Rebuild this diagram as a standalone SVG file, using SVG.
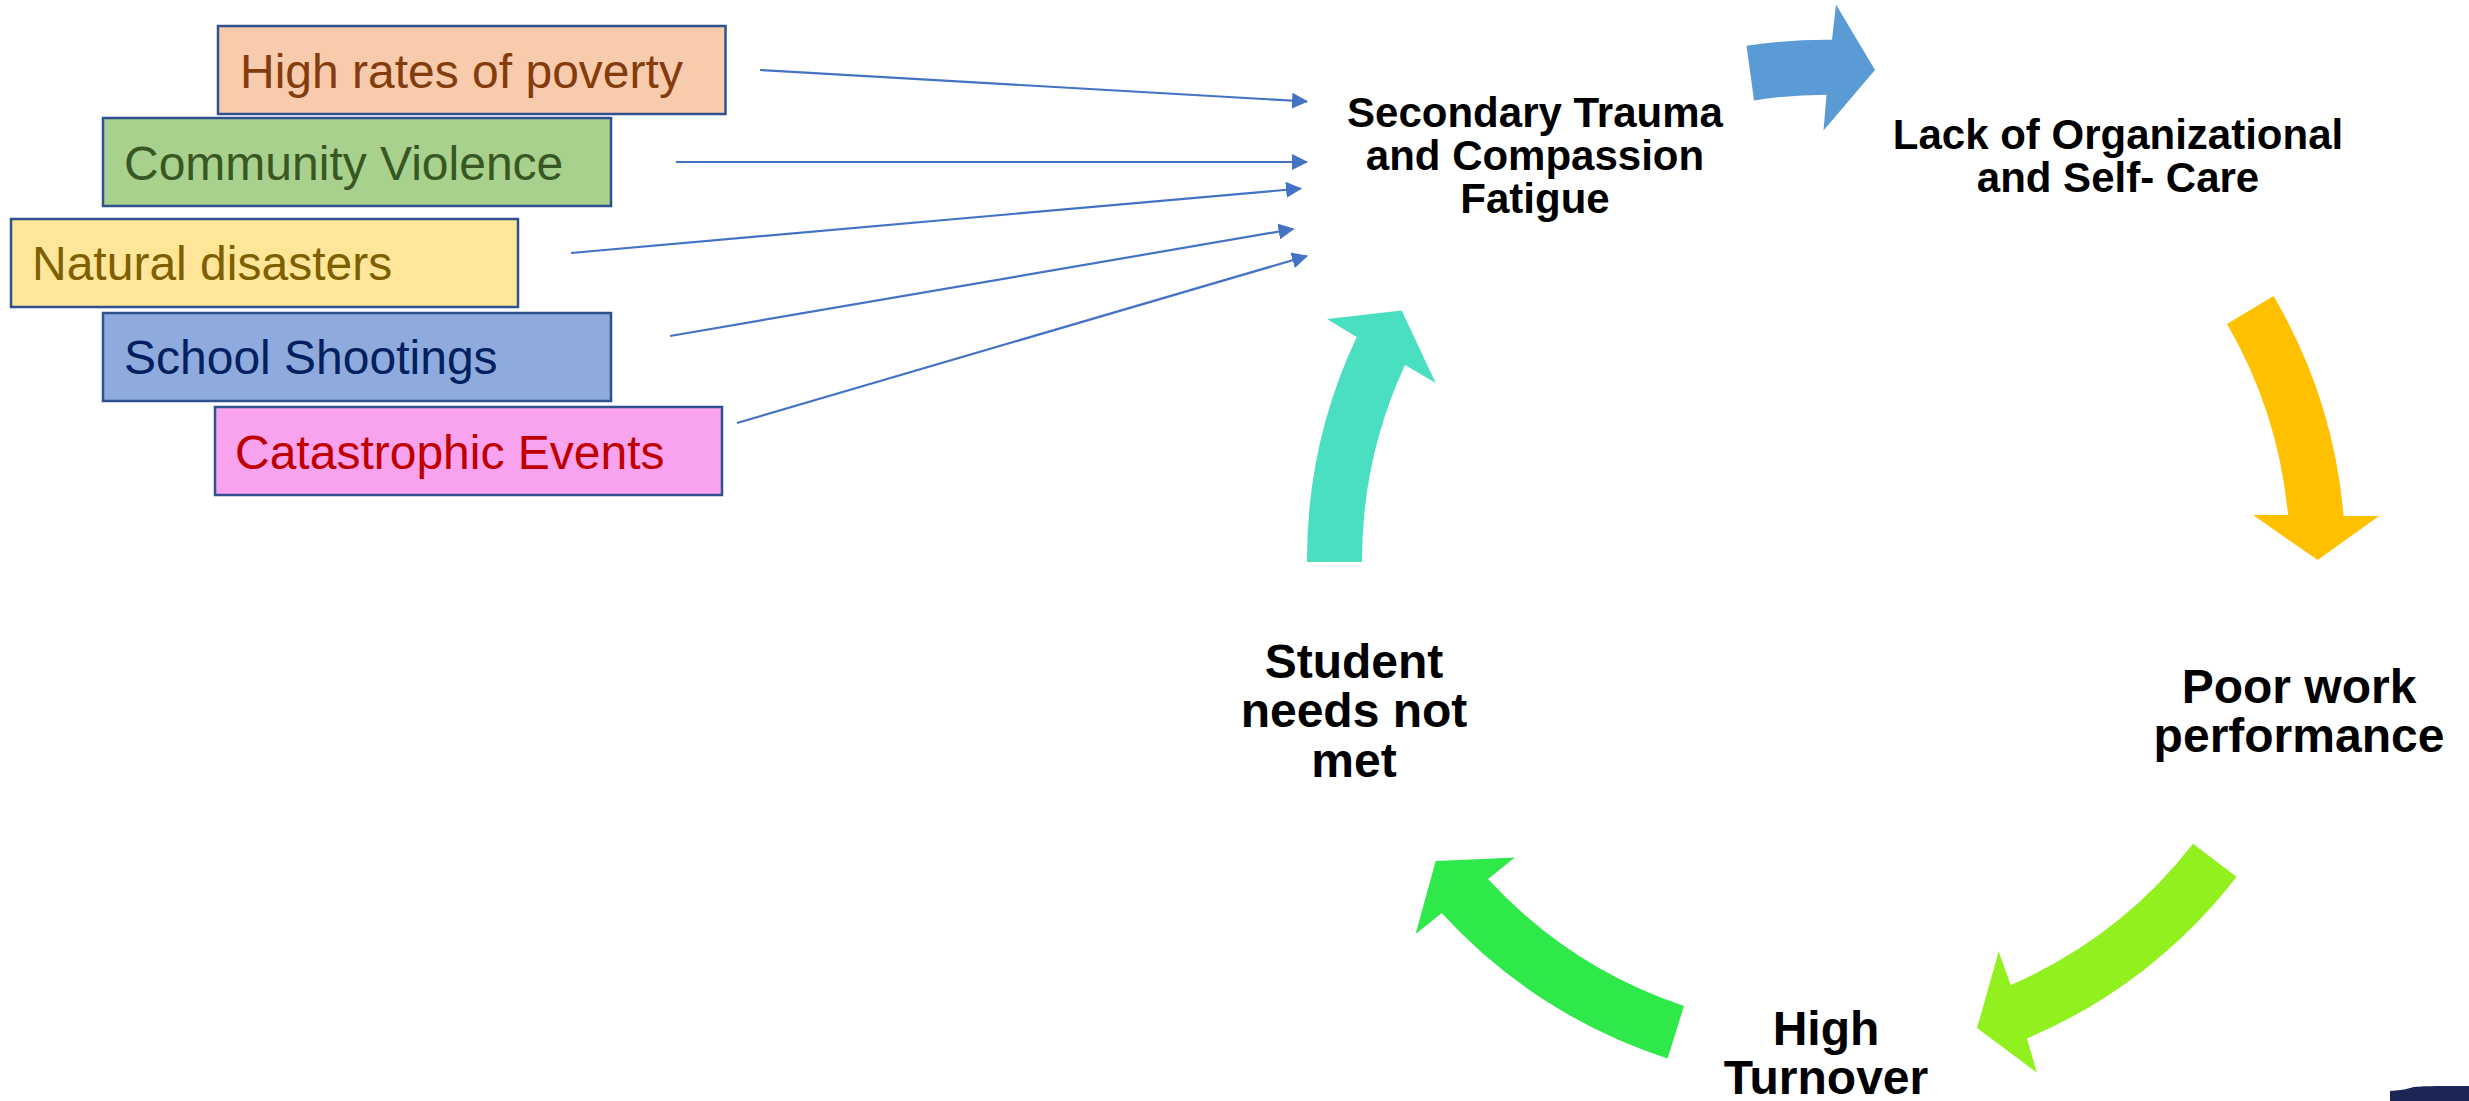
<svg xmlns="http://www.w3.org/2000/svg" width="2469" height="1101" viewBox="0 0 2469 1101">
<style>
.box{stroke:#2F528F;stroke-width:2.5}
.bt{font-family:"Liberation Sans",Arial,sans-serif;font-size:48px}
.lbl{font-family:"Liberation Sans",Arial,sans-serif;font-weight:bold;fill:#000;text-anchor:middle}
.conn{stroke:#4472C4;stroke-width:2.2;fill:none;marker-end:url(#ah)}
</style>
<defs>
<marker id="ah" markerUnits="userSpaceOnUse" markerWidth="16" markerHeight="16" refX="15" refY="8" orient="auto">
<path d="M0,0 L16,8 L0,16 Z" fill="#4472C4"/>
</marker>
</defs>
<rect width="2469" height="1101" fill="#fff"/>

<g id="connectors">
<line class="conn" x1="760" y1="70" x2="1307" y2="101.5"/>
<line class="conn" x1="676" y1="162" x2="1307" y2="162"/>
<line class="conn" x1="571" y1="253" x2="1301" y2="188.5"/>
<line class="conn" x1="670" y1="336" x2="1293.5" y2="229"/>
<line class="conn" x1="737" y1="423" x2="1307" y2="256"/>
</g>

<g id="poverty">
<rect class="box" x="218" y="26" width="507.5" height="88" fill="#F8CBAD"/>
<text class="bt" x="240" y="88" fill="#843C0C">High rates of poverty</text>
</g>
<g id="community">
<rect class="box" x="103" y="118" width="508" height="88" fill="#A9D18E"/>
<text class="bt" x="124" y="180" fill="#385723">Community Violence</text>
</g>
<g id="natural">
<rect class="box" x="11" y="219" width="507" height="88" fill="#FFE699"/>
<text class="bt" x="32" y="280" fill="#7F6000">Natural disasters</text>
</g>
<g id="school">
<rect class="box" x="103" y="313" width="508" height="88" fill="#8FAADC"/>
<text class="bt" x="124" y="374" fill="#002060">School Shootings</text>
</g>
<g id="catastrophic">
<rect class="box" x="215" y="407" width="507" height="88" fill="#F9A3EE"/>
<text class="bt" x="235" y="469" fill="#C00000">Catastrophic Events</text>
</g>

<g id="cycle-arrows">
<path id="arrow-blue" fill="#5B9BD5" d="M1746.5,45.8 A521,521 0 0 1 1832,39.7 L1836,4.6 L1875,70 L1823.5,130.5 L1826.5,94.7 A466,466 0 0 0 1754,100.4 Z"/>
<path id="arrow-yellow" fill="#FFC000" d="M2273.5,296 A521,521 0 0 1 2343.6,516 L2379,516 L2317.6,560 L2253,515 L2288,515 A466,466 0 0 0 2227,324 Z"/>
<path id="arrow-lime" fill="#93F01F" d="M2236.6,876.8 A521,521 0 0 1 2027,1038.4 L2036.8,1072.5 L1977,1028 L1998.7,951.6 L2010.7,985 A466,466 0 0 0 2193,843.8 Z"/>
<path id="arrow-green" fill="#2FE84A" d="M1667.6,1058.4 A521,521 0 0 1 1441.7,913 L1415.6,934 L1435.7,861 L1514.8,857.5 L1488,879 A466,466 0 0 0 1684,1006 Z"/>
<path id="arrow-teal" fill="#4ADFC1" d="M1307,562 A521,521 0 0 1 1356.7,337 L1327,319 L1401.7,310.5 L1435.7,383 L1405,365 A466,466 0 0 0 1362,562 Z"/>
</g>

<g id="secondary-trauma">
<text class="lbl" font-size="42" x="1535" y="127">Secondary Trauma</text>
<text class="lbl" font-size="42" x="1535" y="170">and Compassion</text>
<text class="lbl" font-size="42" x="1535" y="213">Fatigue</text>
</g>
<g id="lack-care">
<text class="lbl" font-size="42" x="2118" y="149">Lack of Organizational</text>
<text class="lbl" font-size="42" x="2118" y="192">and Self- Care</text>
</g>
<g id="poor-work">
<text class="lbl" font-size="48" x="2299" y="703">Poor work</text>
<text class="lbl" font-size="48" x="2299" y="752">performance</text>
</g>
<g id="high-turnover">
<text class="lbl" font-size="48" x="1826" y="1045">High</text>
<text class="lbl" font-size="48" x="1826" y="1094">Turnover</text>
</g>
<g id="student-needs">
<text class="lbl" font-size="48" x="1354" y="678">Student</text>
<text class="lbl" font-size="48" x="1354" y="727">needs not</text>
<text class="lbl" font-size="48" x="1354" y="777">met</text>
</g>

<path id="corner-logo" fill="#1B2656" d="M2390,1101 L2390,1091 C2398,1090 2404,1090 2410,1088 C2416,1086 2430,1086 2469,1086 L2469,1101 Z"/>
</svg>
